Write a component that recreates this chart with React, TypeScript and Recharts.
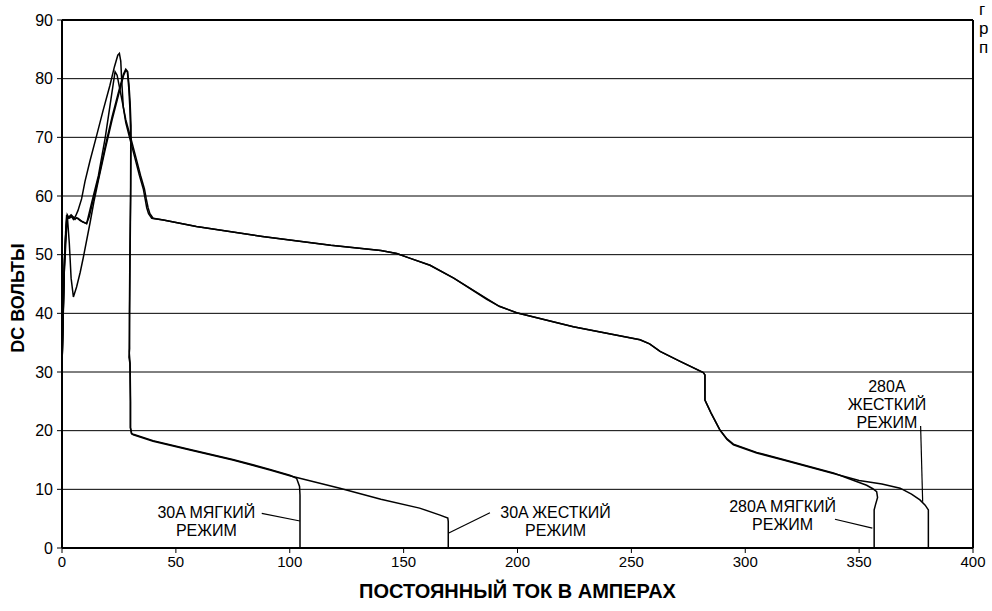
import { LineChart, Line, XAxis, YAxis, CartesianGrid, ReferenceLine, ReferenceDot, Label } from "recharts";

// Вольт-амперные характеристики: [ток, напряжение]
const soft30: [number, number][] = [
  [0, 31], [1, 49], [2.1, 56.6], [3, 56.4], [4, 56.8], [5.5, 56.2], [7, 56.2], [9, 55.6], [10.8, 55.3],
  [12, 56.5], [13.5, 59], [16, 63], [19, 68.5], [22, 73.5], [25, 78], [27, 80.8], [28, 81.6], [28.8, 81.2],
  [29.4, 79], [29.9, 76], [30.3, 72], [30.2, 62], [29.9, 50], [29.7, 40], [29.5, 33.5], [29.9, 31.5],
  [30.1, 25], [30.1, 20.5], [30.6, 19.5], [31.3, 19.4], [40, 18.3], [56.2, 16.8], [75, 15.1], [91.3, 13.4],
  [100, 12.4], [103, 11.9], [104.3, 10.5], [104.5, 9], [104.5, 0],
];

const hard30: [number, number][] = [
  [0, 31], [1, 47], [2.3, 56.8], [3.2, 52], [4, 46], [5, 42.8], [6.4, 44.5], [8, 47], [9.4, 49.6],
  [12.3, 55.4], [14, 59], [16, 62.7], [19, 68], [22, 73], [25, 77.5], [27, 80.5], [28, 81.4], [28.7, 81.2],
  [29.3, 78.5], [29.8, 75], [30.2, 70], [30.1, 60], [29.8, 50], [29.6, 40], [29.7, 34], [29.4, 32.5],
  [29.8, 31.5], [30, 25], [30, 20.5], [30.5, 19.5], [31.3, 19.3], [40, 18.2], [56.2, 16.7], [75, 15],
  [91.3, 13.3], [100, 12.3], [122, 10.2], [140, 8.3], [157, 6.8], [166, 5.6], [169.4, 5.1], [169.6, 4.5],
  [169.6, 0],
];

const soft280: [number, number][] = [
  [0, 31], [1, 48], [2, 56.5], [3, 56.2], [4.5, 56.5], [5.7, 56], [6.4, 56.3], [8, 55.8], [10.8, 55.3],
  [13, 58.8], [16, 63.5], [19, 70], [21.5, 76.5], [23.3, 81.2], [24.2, 80.6], [25.2, 78.6], [26.5, 76],
  [28, 73], [30.4, 69.6], [32.5, 66.5], [34.5, 63.5], [36.2, 61.2], [37, 59.5], [37.8, 58], [38.6, 57],
  [40, 56.2], [44.5, 55.9], [59, 54.8], [88, 53.1], [118, 51.6], [140, 50.7], [147, 50.2], [152, 49.5],
  [161.6, 48.2], [172, 46], [186.5, 42.4], [192, 41.2], [199.6, 40.1], [224.5, 37.7], [253.8, 35.5],
  [258, 34.8], [262.6, 33.5], [271.4, 31.8], [281.6, 29.9], [282.3, 29.5], [282.3, 25.2], [285, 23],
  [288.9, 20.1], [292, 18.6], [294.8, 17.7], [305, 16.3], [316.7, 15.1], [338.7, 12.8], [345, 11.9],
  [353.3, 10.7], [356, 10.1], [357.7, 9.6], [358.1, 8.6], [357.2, 7.4], [356.6, 6.5], [356.6, 0],
];

const hard280: [number, number][] = [
  [0, 31], [0.8, 45], [1.6, 54], [2.3, 56.8], [3, 56.3], [4, 56.6], [5, 56], [6, 56.6], [7, 57.5],
  [8.6, 59.5], [10.1, 62.5], [12.3, 66], [15, 70], [18, 74.5], [21, 78.8], [23, 82], [24.5, 84],
  [25.2, 84.3], [25.8, 83], [26.2, 79.8], [26.9, 75.2], [28, 72.5], [29.9, 69.6], [32, 66.5], [34, 63.5],
  [35.7, 61.2], [36.5, 59.5], [37.2, 58], [38, 57], [39.4, 56.2], [44.5, 55.9], [59, 54.8], [88, 53.1],
  [118, 51.6], [140, 50.7], [147, 50.2], [152, 49.5], [161.6, 48.2], [172, 46], [186.5, 42.5],
  [192, 41.2], [199.6, 40.1], [224.5, 37.7], [253.8, 35.5], [258, 34.8], [262.6, 33.5], [271.4, 31.8],
  [281.6, 29.9], [282.3, 29.5], [282.3, 25.2], [285, 23], [288.9, 20.1], [292, 18.5], [294.8, 17.6],
  [305, 16.2], [316.7, 15], [338.7, 12.7], [350, 11.5], [360, 10.9], [368, 10.2], [373, 9.2],
  [376.7, 8.2], [379, 7.3], [380.4, 6.5], [380.4, 0],
];

const xTicks = [0, 50, 100, 150, 200, 250, 300, 350, 400];
const yTicks = [0, 10, 20, 30, 40, 50, 60, 70, 80, 90];

// подписи режимов: центр текста и выноска
const notes = [
  { lines: ["30A МЯГКИЙ", "РЕЖИМ"], at: [63.4, 4.6], from: [87.7, 5.9], to: [104.5, 4.6] },
  { lines: ["30A ЖЕСТКИЙ", "РЕЖИМ"], at: [216.7, 4.6], from: [187.9, 6.0], to: [169.6, 2.5] },
  { lines: ["280A МЯГКИЙ", "РЕЖИМ"], at: [316.4, 5.5], from: [339.4, 4.9], to: [355.8, 3.4] },
  { lines: ["280A", "ЖЕСТКИЙ", "РЕЖИМ"], at: [362.2, 24.5], from: [377, 20.8], to: [377.9, 7.9] },
];

const FONT = "'Liberation Sans', Arial, sans-serif";

const toRows = (pts: [number, number][]) => pts.map(([x, y]) => ({ x, y }));

const NoteText = ({ cx, cy, lines }: { cx?: number; cy?: number; lines: string[] }) => {
  const step = 18;
  const top = (cy ?? 0) - ((lines.length - 1) * step) / 2;
  return (
    <g>
      {lines.map((line, i) => (
        <text
          key={line}
          x={cx}
          y={top + i * step}
          textAnchor="middle"
          dominantBaseline="central"
          fontFamily={FONT}
          fontSize={16}
          fill="#000"
        >
          {line}
        </text>
      ))}
    </g>
  );
};

export default function App() {
  const series = [soft30, hard30, soft280, hard280];
  return (
    <div style={{ position: "absolute", left: 0, top: 0, width: 992, height: 611, background: "#fff" }}>
      <LineChart width={992} height={611} margin={{ top: 20, right: 19, bottom: 0, left: 0 }}>
        <CartesianGrid horizontal vertical={false} stroke="#000" strokeWidth={1} />
        <XAxis
          type="number"
          dataKey="x"
          domain={[0, 400]}
          ticks={xTicks}
          interval={0}
          height={63}
          tickSize={5}
          tickMargin={3}
          axisLine={{ stroke: "#000", strokeWidth: 2 }}
          tickLine={{ stroke: "#000" }}
          tick={{ fill: "#000", fontSize: 15, fontFamily: FONT }}
        >
          <Label
            content={({ viewBox }: any) => (
              <text
                x={viewBox.x + viewBox.width / 2}
                y={598}
                textAnchor="middle"
                fontFamily={FONT}
                fontWeight="bold"
                fontSize={20}
                fill="#000"
              >
                ПОСТОЯННЫЙ ТОК В АМПЕРАХ
              </text>
            )}
          />
        </XAxis>
        <YAxis
          type="number"
          domain={[0, 90]}
          ticks={yTicks}
          interval={0}
          width={62}
          tickSize={5}
          tickMargin={4}
          axisLine={{ stroke: "#000", strokeWidth: 2 }}
          tickLine={{ stroke: "#000" }}
          tick={{ fill: "#000", fontSize: 16, fontFamily: FONT }}
        >
          <Label
            content={() => (
              <text
                x={24}
                y={298}
                transform="rotate(-90 24 298)"
                textAnchor="middle"
                fontFamily={FONT}
                fontWeight="bold"
                fontSize={18}
                fill="#000"
              >
                DC ВОЛЬТЫ
              </text>
            )}
          />
        </YAxis>
        <ReferenceLine y={90} stroke="#000" strokeWidth={2} />
        <ReferenceLine x={400} stroke="#000" strokeWidth={2} />
        {series.map((pts, i) => (
          <Line
            key={i}
            data={toRows(pts)}
            dataKey="y"
            type="linear"
            stroke="#000"
            strokeWidth={1.5}
            dot={false}
            activeDot={false}
            isAnimationActive={false}
          />
        ))}
        {notes.map((n) => (
          <ReferenceLine
            key={n.lines.join(" ") + "-lead"}
            segment={[
              { x: n.from[0], y: n.from[1] },
              { x: n.to[0], y: n.to[1] },
            ]}
            stroke="#000"
            strokeWidth={1.2}
          />
        ))}
        {notes.map((n) => (
          <ReferenceDot
            key={n.lines.join(" ")}
            x={n.at[0]}
            y={n.at[1]}
            shape={(p: any) => <NoteText cx={p.cx} cy={p.cy} lines={n.lines} />}
          />
        ))}
      </LineChart>
      <div
        style={{
          position: "absolute",
          left: 979,
          top: 0,
          fontFamily: FONT,
          fontSize: 17,
          lineHeight: "19px",
          color: "#000",
        }}
      >
        <div>г</div>
        <div>р</div>
        <div>п</div>
      </div>
    </div>
  );
}
